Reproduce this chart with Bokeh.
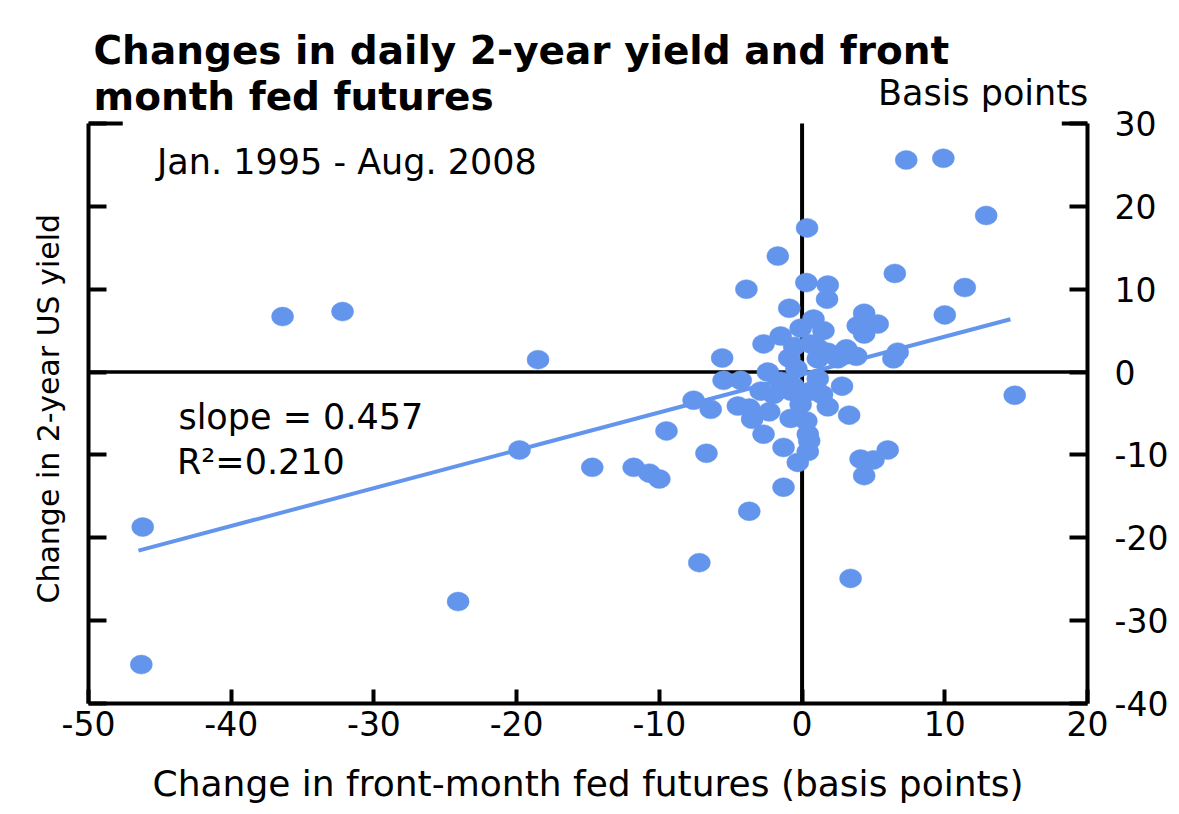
from bokeh.plotting import figure
from bokeh.models import Range1d, LinearAxis, FixedTicker, Label, Title, ColumnDataSource
from bokeh.core.properties import value
from bokeh.embed import file_html
from bokeh.resources import INLINE

# ---- data (basis points) ----
fed_futures = [-46.3, -46.2, -36.4, -32.2, -24.1, -19.8, -18.5, -14.7, -11.8, -10.7,
               -10.0, -9.5, -7.6, -7.2, -6.7, -6.4, -5.6, -5.5, -4.3, -3.9,
               -3.7, -1.7, 0.35, 7.3, 9.9, 12.9, 6.5, 11.4, 10.0, 14.9,
               6.0, 4.1, 5.0, 4.35, 3.4, -1.3, 6.7, 6.4, 0.3, 1.8,
               1.75, -0.9, 4.35, 5.3, 3.9, 4.35, 1.5, 0.8, -0.1, -1.5,
               -2.7, -0.55, 0.6, -0.9, 1.1, 1.8, 3.1, 3.8, 2.5, 1.1,
               -2.4, -1.5, 1.1, 2.8, -2.9, -2.0, -0.8, 0.6, -4.5, -3.7,
               -2.3, -3.5, -0.8, 1.8, 3.3, -2.7, 0.4, -1.3, 0.4, -0.3,
               -0.1, -0.6, 0.5, 1.4, -0.4, 0.3]
yield_2y = [-35.3, -18.7, 6.7, 7.3, -27.7, -9.4, 1.5, -11.5, -11.5, -12.2,
            -12.9, -7.1, -3.4, -23.0, -9.8, -4.5, 1.7, -1.0, -1.0, 10.0,
            -16.8, 14.0, 17.4, 25.6, 25.8, 18.9, 11.9, 10.2, 6.9, -2.8,
            -9.4, -10.5, -10.6, -12.5, -24.9, -13.9, 2.4, 1.6, 10.8, 10.5,
            8.8, 7.7, 7.1, 5.8, 5.6, 4.6, 5.0, 6.4, 5.3, 4.35,
            3.4, 3.1, 3.4, 1.7, 2.9, 2.4, 2.8, 1.9, 1.6, 1.6,
            0.0, -1.1, -0.8, -1.7, -2.3, -2.7, -2.3, -2.3, -4.1, -4.35,
            -4.8, -5.7, -5.6, -4.2, -5.2, -7.5, -7.5, -9.1, -9.6, -10.9,
            -3.9, -1.7, -8.3, -2.7, 0.4, -5.9]

fit_slope = 0.457
fit_intercept = -0.3
fit_x = [-46.5, 14.6]
fit_y = [fit_slope * v + fit_intercept for v in fit_x]

x_ticks = [-50, -40, -30, -20, -10, 0, 10, 20]
y_ticks = [-40, -30, -20, -10, 0, 10, 20, 30]
X_MIN, X_MAX = -50, 20
Y_MIN, Y_MAX = -40, 30

title_lines = ["Changes in daily 2-year yield and front", "month fed futures"]
units_text = "Basis points"
period_text = "Jan. 1995 - Aug. 2008"
stats_lines = ["slope = 0.457", "R\u00b2=0.210"]
x_label = "Change in front-month fed futures (basis points)"
y_label = "Change in 2-year US yield"

BLUE = "#6495ED"
FONT = "DejaVu Sans"
W, H = 1171, 806
# room above the axes (for title) expressed in y units: 123 px at 580/70 px per unit
Y_HEAD = Y_MAX + 123 / (580 / 70)

p = figure(width=W, height=H, output_backend="svg", toolbar_location=None,
           x_range=Range1d(X_MIN, X_MAX), y_range=Range1d(Y_MIN, Y_HEAD),
           min_border_left=88, min_border_right=W - 1087,
           min_border_top=0, min_border_bottom=H - 703)
p.outline_line_color = None
p.grid.visible = False
p.background_fill_color = "white"
p.border_fill_color = "white"

def hyphen_labels(ticks):
    return {t: str(t) for t in ticks}

# bottom axis
xa = p.xaxis[0]
xa.ticker = FixedTicker(ticks=x_ticks)
xa.major_label_overrides = hyphen_labels(x_ticks)
xa.axis_line_width = 4
xa.axis_line_color = "black"
xa.major_tick_in = 14
xa.major_tick_out = 0
xa.major_tick_line_width = 4
xa.minor_tick_line_color = None
xa.major_label_text_font = FONT
xa.major_label_text_font_size = "33px"
xa.major_label_text_color = "black"
xa.major_label_standoff = 7
xa.axis_label = x_label
xa.axis_label_text_font = FONT
xa.axis_label_text_font_size = "36px"
xa.axis_label_text_font_style = "normal"
xa.axis_label_text_color = "black"
xa.axis_label_standoff = 24

# left axis (ticks only, no numbers)
ya = p.yaxis[0]
ya.ticker = FixedTicker(ticks=y_ticks)
ya.bounds = (Y_MIN, Y_MAX)
ya.major_label_overrides = {t: "" for t in y_ticks}
ya.axis_line_width = 4
ya.major_tick_in = 18
ya.major_tick_out = 0
ya.major_tick_line_width = 4
ya.minor_tick_line_color = None
ya.major_label_standoff = 0

# y label as a left-side title, aligned along the -40..30 part of the frame
p.add_layout(Title(text=y_label, align="left", offset=100, vertical_align="top",
                   standoff=41, text_font=FONT, text_font_size="30px",
                   text_font_style="normal", text_color="black"), "left")

# right axis
ra = LinearAxis(ticker=FixedTicker(ticks=y_ticks), bounds=(Y_MIN, Y_MAX))
ra.major_label_overrides = hyphen_labels(y_ticks)
ra.axis_line_width = 4
ra.major_tick_in = 18
ra.major_tick_out = 0
ra.major_tick_line_width = 4
ra.minor_tick_line_color = None
ra.major_label_text_font = FONT
ra.major_label_text_font_size = "33px"
ra.major_label_text_color = "black"
ra.major_label_standoff = 27
p.add_layout(ra, "right")

# partial top frame
p.segment(x0=[X_MIN, 18.2], y0=[Y_MAX, Y_MAX], x1=[-47.6, X_MAX], y1=[Y_MAX, Y_MAX],
          line_color="black", line_width=4)

# zero lines
p.segment(x0=[X_MIN], y0=[0], x1=[X_MAX], y1=[0], line_color="black", line_width=3.5)
p.segment(x0=[0], y0=[Y_MIN], x1=[0], y1=[Y_MAX], line_color="black", line_width=4)

# fitted line and points
p.line(fit_x, fit_y, line_color=BLUE, line_width=4)
src = ColumnDataSource(dict(x=fed_futures, y=yield_2y))
p.ellipse("x", "y", width=22, height=19, width_units="screen", height_units="screen",
          source=src, fill_color=BLUE, line_color=BLUE, line_width=0.5)

# title and units
p.text(x=[-49.65, -49.65], y=[38.81, 33.26], text=title_lines, text_font=value(FONT),
       text_font_size="39px", text_font_style="bold", text_color="black",
       text_align="left", text_baseline="middle")
p.text(x=[20.05], y=[33.74], text=[units_text], text_font=value(FONT),
       text_font_size="35px", text_color="black", text_align="right",
       text_baseline="middle")

# in-plot texts
def lab(x, y, t, size):
    p.add_layout(Label(x=x, y=y, text=t, text_font=FONT, text_font_size=size,
                       text_align="left", text_baseline="middle", text_color="black"))

lab(-45.2, 25.3, period_text, "35px")
lab(-43.7, -5.4, stats_lines[0], "35px")
lab(-43.8, -10.9, stats_lines[1], "35px")

open("out.html", "w").write(file_html(p, INLINE))
